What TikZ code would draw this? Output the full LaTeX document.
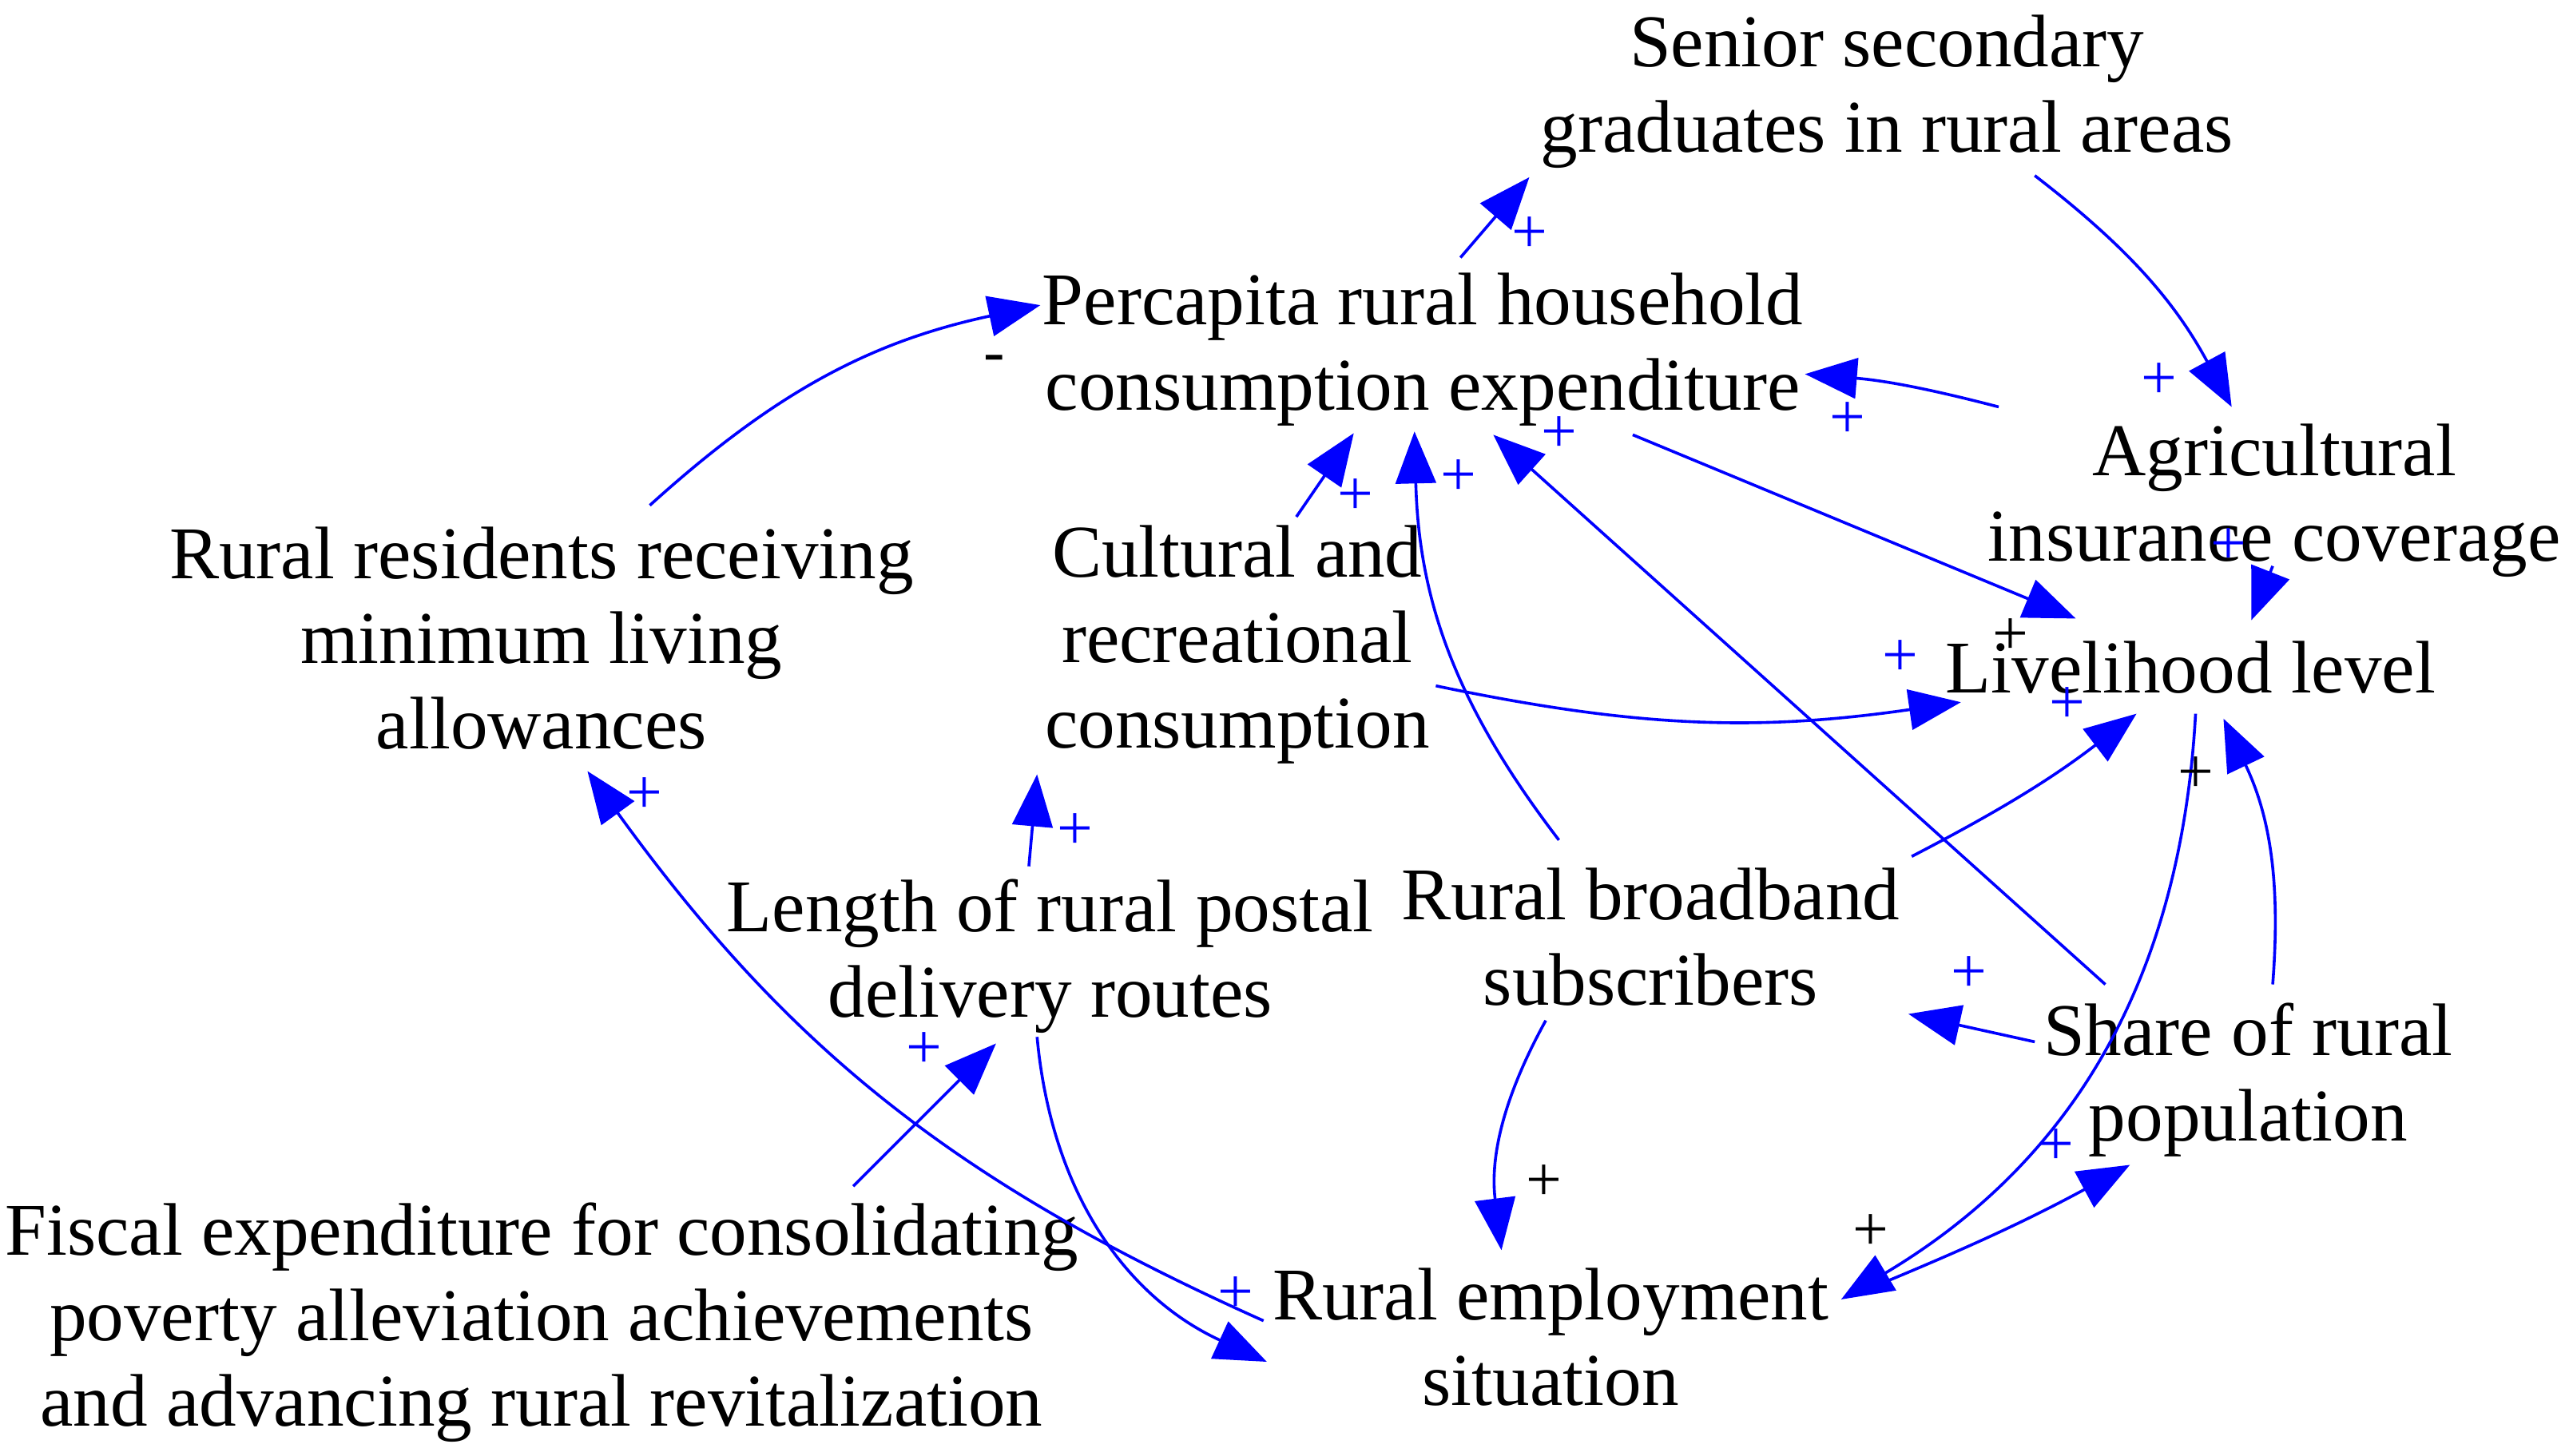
\documentclass[tikz,border=0pt]{standalone}
\usepackage{fontspec}
\setmainfont{Liberation Serif}
\usetikzlibrary{arrows.meta}
\definecolor{ab}{RGB}{0,0,255}
\begin{document}
\begin{tikzpicture}[x=0.01cm,y=-0.01cm,
  lbl/.style={align=center,font=\fontsize{12.9}{14.8}\selectfont,inner sep=0pt},
  arr/.style={draw=ab,line width=0.5pt,-{Triangle[length=9pt,width=7pt,fill=ab]}},
  pl/.style={text=ab,font=\fontsize{11}{12}\selectfont,inner sep=0pt},
  plk/.style={font=\fontsize{11}{12}\selectfont,inner sep=0pt}]
\useasboundingbox (0,0) rectangle (1568,887);
\node[lbl] (sen) at (1150,56) {Senior secondary\\graduates in rural areas};
\node[lbl] (per) at (867,213) {Percapita rural household\\consumption expenditure};
\node[lbl] (agr) at (1386,305) {Agricultural\\insurance coverage};
\node[lbl] (liv) at (1335,407) {Livelihood level};
\node[lbl] (res) at (330,389) {Rural residents receiving\\minimum living\\allowances};
\node[lbl] (cul) at (754,393) {Cultural and\\recreational\\consumption};
\node[lbl] (len) at (640,583) {Length of rural postal\\delivery routes};
\node[lbl] (bro) at (1006,571) {Rural broadband\\subscribers};
\node[lbl] (sha) at (1370,658) {Share of rural\\population};
\node[lbl] (fis) at (330,806) {Fiscal expenditure for consolidating\\poverty alleviation achievements\\and advancing rural revitalization};
\node[lbl] (emp) at (945,815) {Rural employment\\situation};
% coordinates
\coordinate (a1) at (890,157); \coordinate (b1) at (932,108);
\coordinate (a2) at (1240,107); \coordinate (b2) at (1360,248);
\coordinate (a3) at (1218,248); \coordinate (b3) at (1100,228);
\coordinate (a4) at (396,308); \coordinate (b4) at (634,186);
\coordinate (a5) at (790,315); \coordinate (b5) at (825,264);
\coordinate (a6) at (995,265); \coordinate (b6) at (1265,377);
\coordinate (a7) at (875,418); \coordinate (b7) at (1195,428);
\coordinate (a8) at (950,512); \coordinate (b8) at (862,263);
\coordinate (a9) at (1283,600); \coordinate (b9) at (910,265);
\coordinate (a10) at (1165,522); \coordinate (b10) at (1302,435);
\coordinate (a11) at (1385,600); \coordinate (b11) at (1355,438);
\coordinate (a12) at (1338,435); \coordinate (b12) at (1122,792);
\coordinate (a13) at (1140,785); \coordinate (b13) at (1298,710);
\coordinate (a14) at (1385,345); \coordinate (b14) at (1372,378);
\coordinate (a15) at (1240,635); \coordinate (b15) at (1163,618);
\coordinate (a16) at (942,622); \coordinate (b16) at (915,762);
\coordinate (a17) at (627,528); \coordinate (b17) at (632,472);
\coordinate (a18) at (520,723); \coordinate (b18) at (607,636);
\coordinate (a19) at (770,805); \coordinate (b19) at (358,470);
\coordinate (a20) at (632,632); \coordinate (b20) at (772,830);
\draw[arr] (a1) -- (b1);
\draw[arr] (a2) to[bend left=12] (b2);
\draw[arr] (a3) to[bend right=5] (b3);
\draw[arr] (a4) to[bend left=15] (b4);
\draw[arr] (a5) -- (b5);
\draw[arr] (a6) -- (b6);
\draw[arr] (a7) to[bend right=10] (b7);
\draw[arr] (a8) to[bend left=18] (b8);
\draw[arr] (a9) -- (b9);
\draw[arr] (a10) to[bend right=5] (b10);
\draw[arr] (a11) to[bend right=15] (b11);
\draw[arr] (a12) to[bend left=28] (b12);
\draw[arr] (a13) to[bend right=3] (b13);
\draw[arr] (a14) -- (b14);
\draw[arr] (a15) -- (b15);
\draw[arr] (a16) to[bend right=18] (b16);
\draw[arr] (a17) -- (b17);
\draw[arr] (a18) -- (b18);
\draw[arr] (a19) to[bend left=15] (b19);
\draw[arr] (a20) to[bend right=30] (b20);
% polarity signs
\node[pl] (p1) at (932,143) {+};
\node[pl] (p2) at (1316,232) {+};
\node[pl] (p3) at (1126,256) {+};
\node[plk] (p4) at (606,222) {-};
\node[pl] (p5) at (826,303) {+};
\node[pl] (p6) at (950,265) {+};
\node[pl] (p7) at (1158,401) {+};
\node[pl] (p8) at (889,291) {+};
\node[pl] (p9) at (1260,430) {+};
\node[plk] (p10) at (1338,472) {+};
\node[plk] (p11) at (1140,751) {+};
\node[pl] (p12) at (1253,699) {+};
\node[pl] (p13) at (1358,333) {+};
\node[plk] (p14) at (1225,388) {+};
\node[pl] (p15) at (1200,594) {+};
\node[plk] (p16) at (941,721) {+};
\node[pl] (p17) at (655,507) {+};
\node[pl] (p18) at (563,640) {+};
\node[pl] (p19) at (393,485) {+};
\node[pl] (p20) at (753,789) {+};
\end{tikzpicture}
\end{document}
